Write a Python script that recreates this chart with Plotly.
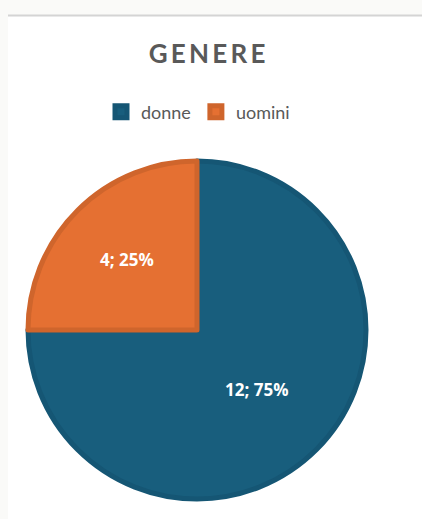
import plotly.graph_objects as go

LABELS = ["donne", "uomini"]
VALUES = [12, 4]
COLORS = ["#185e7d", "#e57032"]
EDGE_COLORS = ["#155674", "#cf652c"]

W, H = 422, 519
# plot area in pixels (left, right, top, bottom)
L, R, T, B = 28, 366, 161, 499
PW, PH = R - L, B - T


def px_x(x):
    return (x - L) / PW


def px_y(y):
    return (B - y) / PH


fig = go.Figure()
fig.add_trace(go.Pie(
    labels=LABELS, values=VALUES,
    sort=False, direction="clockwise", rotation=0,
    marker=dict(colors=COLORS, line=dict(color=EDGE_COLORS, width=5)),
    texttemplate="%{value}; %{percent:.0%}",
    textposition="inside", insidetextorientation="horizontal",
    textfont=dict(family="Open Sans", size=17, color="#ffffff", weight="bold"),
    hovertemplate="%{label}: %{value} (%{percent})<extra></extra>",
))

fig.update_layout(
    width=W, height=H,
    paper_bgcolor="#fafaf8",
    margin=dict(l=L, r=W - R, t=T, b=H - B, autoexpand=False),
    title=dict(
        text="G\u2009E\u2009N\u2009E\u2009R\u2009E",
        font=dict(family="Lato", size=26, color="#595959", weight="bold"),
        xref="container", x=207 / W, xanchor="center",
        yref="container", y=1 - 54 / H, yanchor="middle",
    ),
    legend=dict(
        orientation="h", xanchor="center", x=px_x(198),
        yanchor="middle", y=px_y(112),
        font=dict(family="Lato", size=18, color="#595959"),
        bgcolor="rgba(0,0,0,0)",
        traceorder="normal", itemwidth=30,
    ),
    shapes=[
        dict(type="rect", xref="paper", yref="paper", layer="below",
             x0=px_x(8), x1=px_x(W + 5), y0=px_y(H + 5), y1=px_y(16),
             fillcolor="#ffffff", line=dict(width=0)),
        dict(type="line", xref="paper", yref="paper", layer="below",
             x0=px_x(8), x1=px_x(W + 5), y0=px_y(15.5), y1=px_y(15.5),
             line=dict(color="#d4d4d4", width=2)),
    ],
)

fig.write_html(
    "out.html",
    config={"displayModeBar": False},
    post_script="document.body.style.margin='0';"
                "document.body.style.background='#fafaf8';",
)
